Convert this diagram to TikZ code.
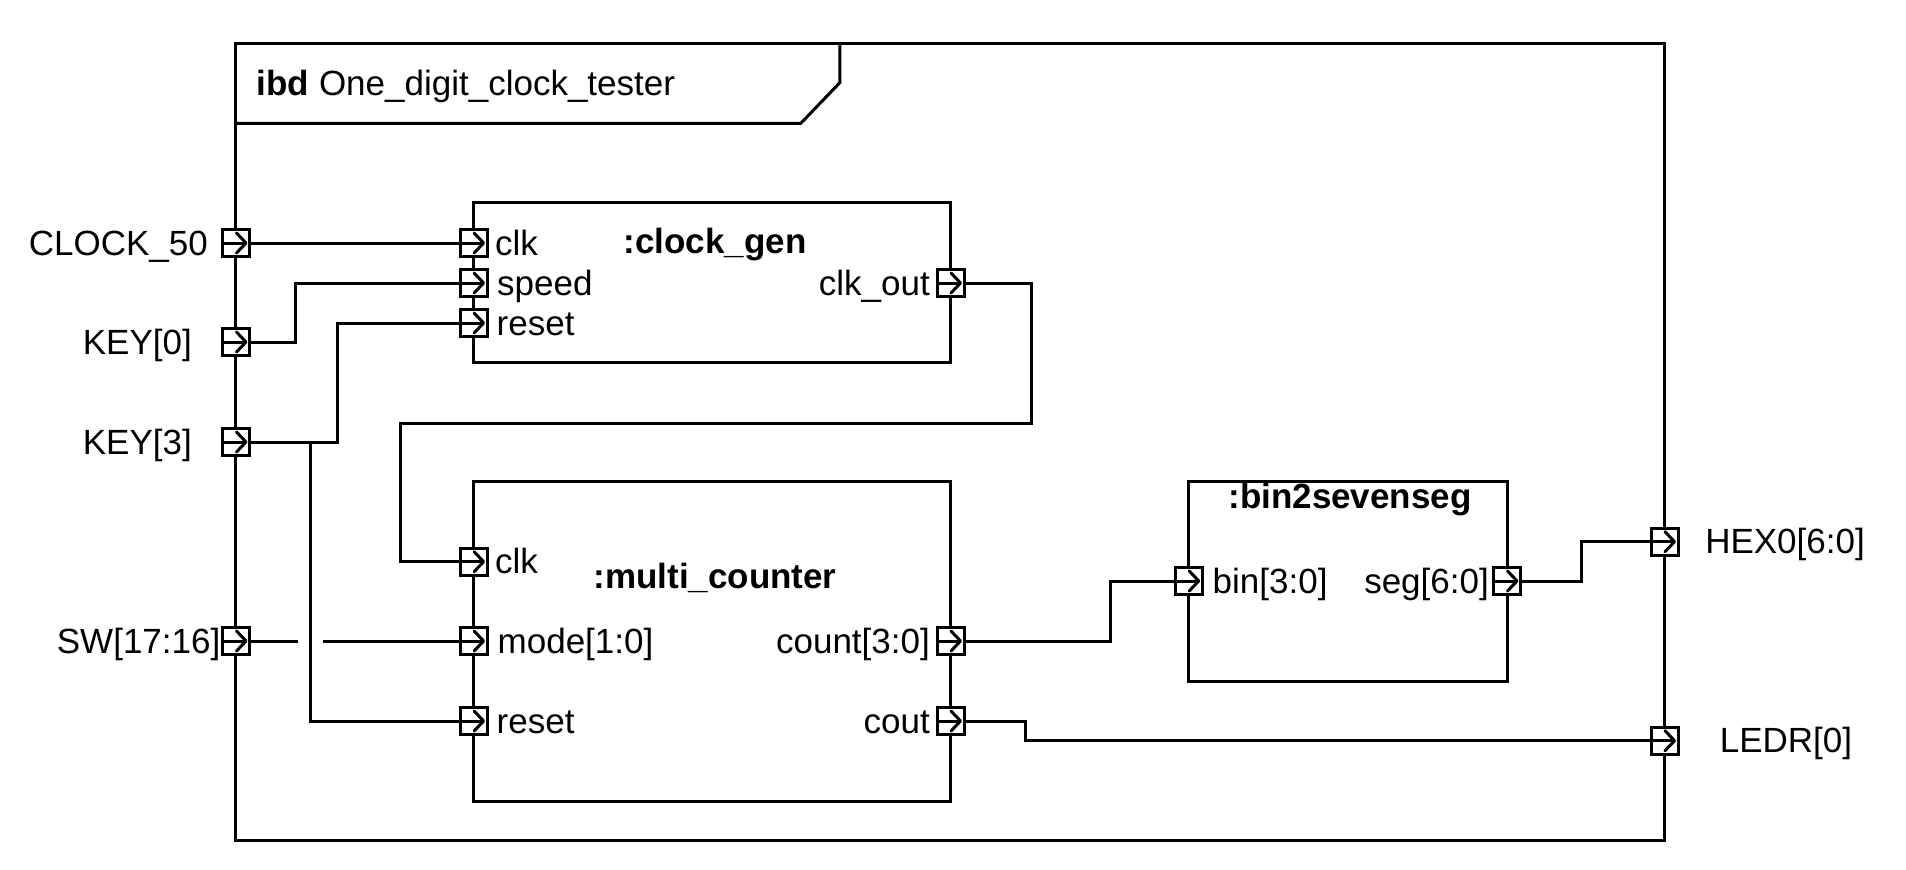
\documentclass[tikz,border=0pt]{standalone}
\usepackage{fontspec}
\setmainfont{Liberation Sans}
\begin{document}
\begin{tikzpicture}[x=1pt,y=-1pt,
  ln/.style={line width=3pt},
  blk/.style={draw, line width=3pt, inner sep=0pt},
  port/.style={draw, line width=3pt, fill=white, minimum size=27pt, inner sep=0pt,
    path picture={
      \draw[line width=3pt] ([xshift=1pt]path picture bounding box.west) -- ([xshift=-4pt]path picture bounding box.east);
      \draw[line width=3pt, line join=round, line cap=round] ([xshift=-13pt,yshift=10pt]path picture bounding box.east) -- ([xshift=-3.5pt]path picture bounding box.east) -- ([xshift=-13pt,yshift=-10pt]path picture bounding box.east);
    }},
  lbl/.style={font=\fontsize{35}{42}\selectfont, inner sep=0pt}
]
\useasboundingbox (0,0) rectangle (1906,870);
% frame
\draw[ln] (235.5,43.5) rectangle (1664.5,840.5);
\draw[ln] (235.5,123.3) -- (800.8,123.3) -- (839.8,82.7) -- (839.8,43.5);
\node[lbl, anchor=base west] (title) at (256.6,95) {\textbf{ibd} One\_digit\_clock\_tester};
% blocks
\node[blk, minimum width=477pt, minimum height=159.6pt] (cg) at (712,282.5) {};
\node[blk, minimum width=477pt, minimum height=320pt] (mc) at (712,641) {};
\node[blk, minimum width=318.3pt, minimum height=200pt] (bs) at (1347.85,581) {};
\node[lbl, anchor=base] (cgt) at (715,253) {\textbf{:clock\_gen}};
\node[lbl, anchor=base] (mct) at (715,588) {\textbf{:multi\_counter}};
\node[lbl, anchor=base] (bst) at (1350,508) {\textbf{:bin2sevenseg}};
% frame ports
\node[port] (pclk) at (236,243) {};
\node[port] (pkey0) at (236,342) {};
\node[port] (pkey3) at (236,442) {};
\node[port] (psw) at (236,641) {};
\node[port] (phex) at (1664.5,541.7) {};
\node[port] (pledr) at (1664.5,740.7) {};
\node[lbl, anchor=base east] (lclk) at (208,255) {CLOCK\_50};
\node[lbl, anchor=base east] (lkey0) at (192,354) {KEY[0]};
\node[lbl, anchor=base east] (lkey3) at (192,454) {KEY[3]};
\node[lbl, anchor=base east] (lsw) at (220.5,653) {SW[17:16]};
\node[lbl, anchor=base] (lhex) at (1785,553.7) {HEX0[6:0]};
\node[lbl, anchor=base] (lledr) at (1786,752.7) {LEDR[0]};
% clock_gen ports
\node[port] (cgclk) at (473.6,243) {};
\node[port] (cgspeed) at (473.6,283) {};
\node[port] (cgreset) at (473.6,323) {};
\node[port] (cgout) at (950.5,283) {};
\node[lbl, anchor=base west] (lcgclk) at (495,255) {clk};
\node[lbl, anchor=base west] (lcgspeed) at (497,295) {speed};
\node[lbl, anchor=base west] (lcgreset) at (496.5,335) {reset};
\node[lbl, anchor=base east] (lcgout) at (930,295) {clk\_out};
% multi_counter ports
\node[port] (mcclk) at (473.6,561.7) {};
\node[port] (mcmode) at (473.6,641) {};
\node[port] (mcreset) at (473.6,721) {};
\node[port] (mccount) at (950.5,641) {};
\node[port] (mccout) at (950.5,721) {};
\node[lbl, anchor=base west] (lmcclk) at (495,573.7) {clk};
\node[lbl, anchor=base west] (lmcmode) at (497.5,653) {mode[1:0]};
\node[lbl, anchor=base west] (lmcreset) at (496.5,733) {reset};
\node[lbl, anchor=base east] (lmccount) at (930,653) {count[3:0]};
\node[lbl, anchor=base east] (lmccout) at (930,733) {cout};
% bin2sevenseg ports
\node[port] (bsbin) at (1188.7,581) {};
\node[port] (bsseg) at (1507,581) {};
\node[lbl, anchor=base west] (lbsbin) at (1212.5,593) {bin[3:0]};
\node[lbl, anchor=base east] (lbsseg) at (1489,593) {seg[6:0]};
% wires
\draw[ln] (pclk.east) -- (cgclk.west);
\draw[ln] (pkey0.east) -- ++(44,0) |- (cgspeed.west);
\draw[ln] (pkey3.east) -- ++(86,0) |- (cgreset.west);
\coordinate (j3) at (310,442);
\draw[ln] (j3) |- (mcreset.west);
\coordinate (gapl) at (298,641);
\coordinate (gapr) at (323,641);
\draw[ln] (psw.east) -- (gapl);
\draw[ln] (gapr) -- (mcmode.west);
\coordinate (c1) at (1031,423);
\coordinate (c2) at (400,423);
\draw[ln] (cgout.east) -| (c1) -- (c2) |- (mcclk.west);
\draw[ln] (mccount.east) -- ++(144.5,0) |- (bsbin.west);
\draw[ln] (bsseg.east) -- ++(59.5,0) |- (phex.west);
\draw[ln] (mccout.east) -- ++(60,0) |- (pledr.west);
\end{tikzpicture}
\end{document}
